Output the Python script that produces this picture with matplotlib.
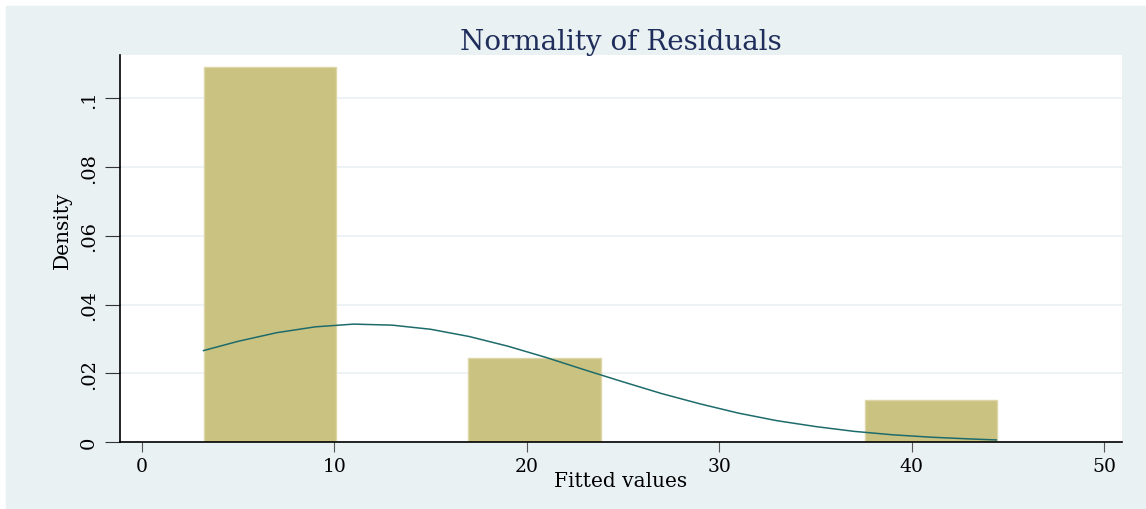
import matplotlib.pyplot as plt

# Histogram bins (left edge) and density heights
bin_left = [3.22, 10.09, 16.96, 23.83, 30.70, 37.57]
bin_width = 6.87
density = [0.1092, 0.0, 0.0243, 0.0, 0.0, 0.0121]

# Normal density overlay, read at points along the curve
curve_x = [3.2, 5, 7, 9, 11, 13, 15, 17, 19, 21, 23, 25, 27, 29, 31, 33,
           35, 37, 39, 41, 43, 44.4]
curve_y = [0.0266, 0.0293, 0.0318, 0.0335, 0.0343, 0.0340, 0.0328, 0.0307,
           0.0279, 0.0246, 0.0210, 0.0175, 0.0141, 0.0111, 0.0084, 0.0062,
           0.0045, 0.0031, 0.0021, 0.0014, 0.0009, 0.0006]

x_ticks = [0, 10, 20, 30, 40, 50]
y_ticks = [0, 0.02, 0.04, 0.06, 0.08, 0.1]
y_labels = ["0", ".02", ".04", ".06", ".08", ".1"]

bg = "#EAF1F3"
plt.rcParams["font.family"] = ["DejaVu Serif"]

fig = plt.figure(figsize=(11.46, 5.10), dpi=100)
fig.patch.set_facecolor("white")
# light background panel with thin white margin at top and left
fig.add_artist(plt.Rectangle((6 / 1146, 0), 1 - 6 / 1146, 1 - 7 / 510,
                             transform=fig.transFigure, color=bg, zorder=-10))

ax = fig.add_axes([120 / 1146, 67 / 510, 1002 / 1146, 387 / 510])
ax.set_facecolor("white")

ax.bar(bin_left, density, width=bin_width, align="edge",
       color="#CAC281", edgecolor="#DCD6A8", linewidth=1, zorder=2)
ax.plot(curve_x, curve_y, color="#1E6B6B", linewidth=1.1, zorder=3)

ax.set_xlim(-1.14, 50.93)
ax.set_ylim(0, 0.1126)
ax.set_xticks(x_ticks)
ax.set_yticks(y_ticks)
ax.set_yticklabels(y_labels, rotation=90, va="center")
ax.grid(axis="y", color="#EAF1F3", linewidth=1.2, zorder=0)
ax.set_axisbelow(True)

for s in ["top", "right"]:
    ax.spines[s].set_visible(False)
for s in ["left", "bottom"]:
    ax.spines[s].set_color("black")
    ax.spines[s].set_linewidth(1.2)

ax.tick_params(axis="x", length=7, color="#555555", labelsize=13.5, pad=4)
ax.tick_params(axis="y", length=11, color="#333333", labelsize=14, pad=5)

ax.set_xlabel("Fitted values", fontsize=14.5, labelpad=-3)
ax.set_ylabel("Density", fontsize=14.5)
ax.yaxis.set_label_coords(-0.048, 0.55)
ax.set_title("Normality of Residuals", fontsize=20, color="#1F2D5A", pad=3)

fig.savefig("out.png", dpi=100, facecolor=fig.get_facecolor())
